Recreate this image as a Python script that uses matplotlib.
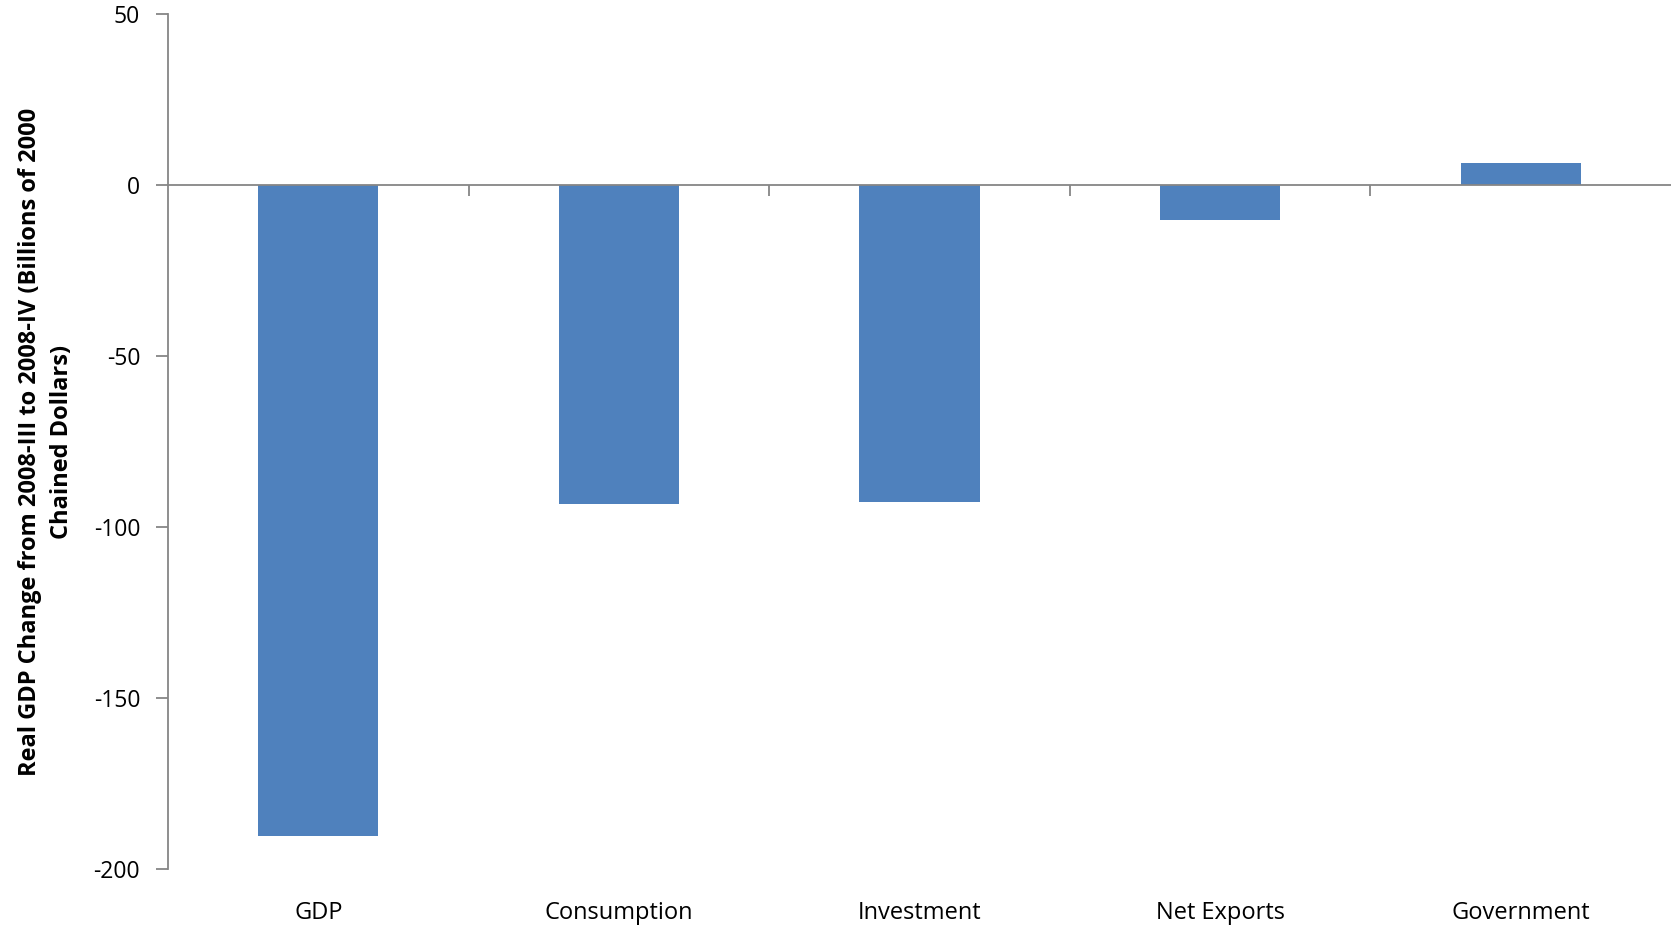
import matplotlib.pyplot as plt
import numpy as np

# values (billions of 2000 chained dollars)
categories = ['GDP', 'Consumption', 'Investment', 'Net Exports', 'Government']
changes = [-190.3, -93.3, -92.7, -10.2, 6.4]
y_ticks = [50, 0, -50, -100, -150, -200]

BAR_COLOR = '#4F81BD'
AXIS_COLOR = '#868686'

plt.rcParams['font.family'] = ['Open Sans', 'DejaVu Sans']

fig = plt.figure(figsize=(16.71, 9.26), dpi=100)
ax = fig.add_axes([168 / 1671, 1 - 869 / 926, 1 - 168 / 1671, (869 - 14) / 926])

x = np.arange(len(categories))
ax.bar(x, changes, width=0.4, color=BAR_COLOR, zorder=2)

ax.set_xlim(-0.5, len(categories) - 0.5)
ax.set_ylim(-200, 50)

# spines: left axis plus a horizontal axis at zero
ax.spines['top'].set_visible(False)
ax.spines['right'].set_visible(False)
ax.spines['bottom'].set_position(('data', 0))
for side in ['left', 'bottom']:
    ax.spines[side].set_color(AXIS_COLOR)
    ax.spines[side].set_linewidth(1.3)
ax.spines['bottom'].set_zorder(3)

ax.set_yticks(y_ticks)
ax.set_yticklabels([str(v) for v in y_ticks])
ax.tick_params(axis='y', direction='out', length=9, width=1.3, color=AXIS_COLOR,
               labelsize=16.5, pad=11)

# category boundary ticks on the zero line
ax.set_xticks(np.arange(0.5, len(categories) - 0.5, 1.0))
ax.set_xticklabels([])
ax.tick_params(axis='x', direction='out', length=8, width=1.3, color=AXIS_COLOR)

for xi, name in zip(x, categories):
    ax.text(xi, -0.052, name, transform=ax.get_xaxis_transform(),
            ha='center', va='center', fontsize=17, color='black')

ax.set_ylabel('Real GDP Change from 2008-III to 2008-IV (Billions of 2000\nChained Dollars)',
              fontsize=17, fontweight='bold', labelpad=14, linespacing=1.45)

fig.savefig('out.png', dpi=100)
